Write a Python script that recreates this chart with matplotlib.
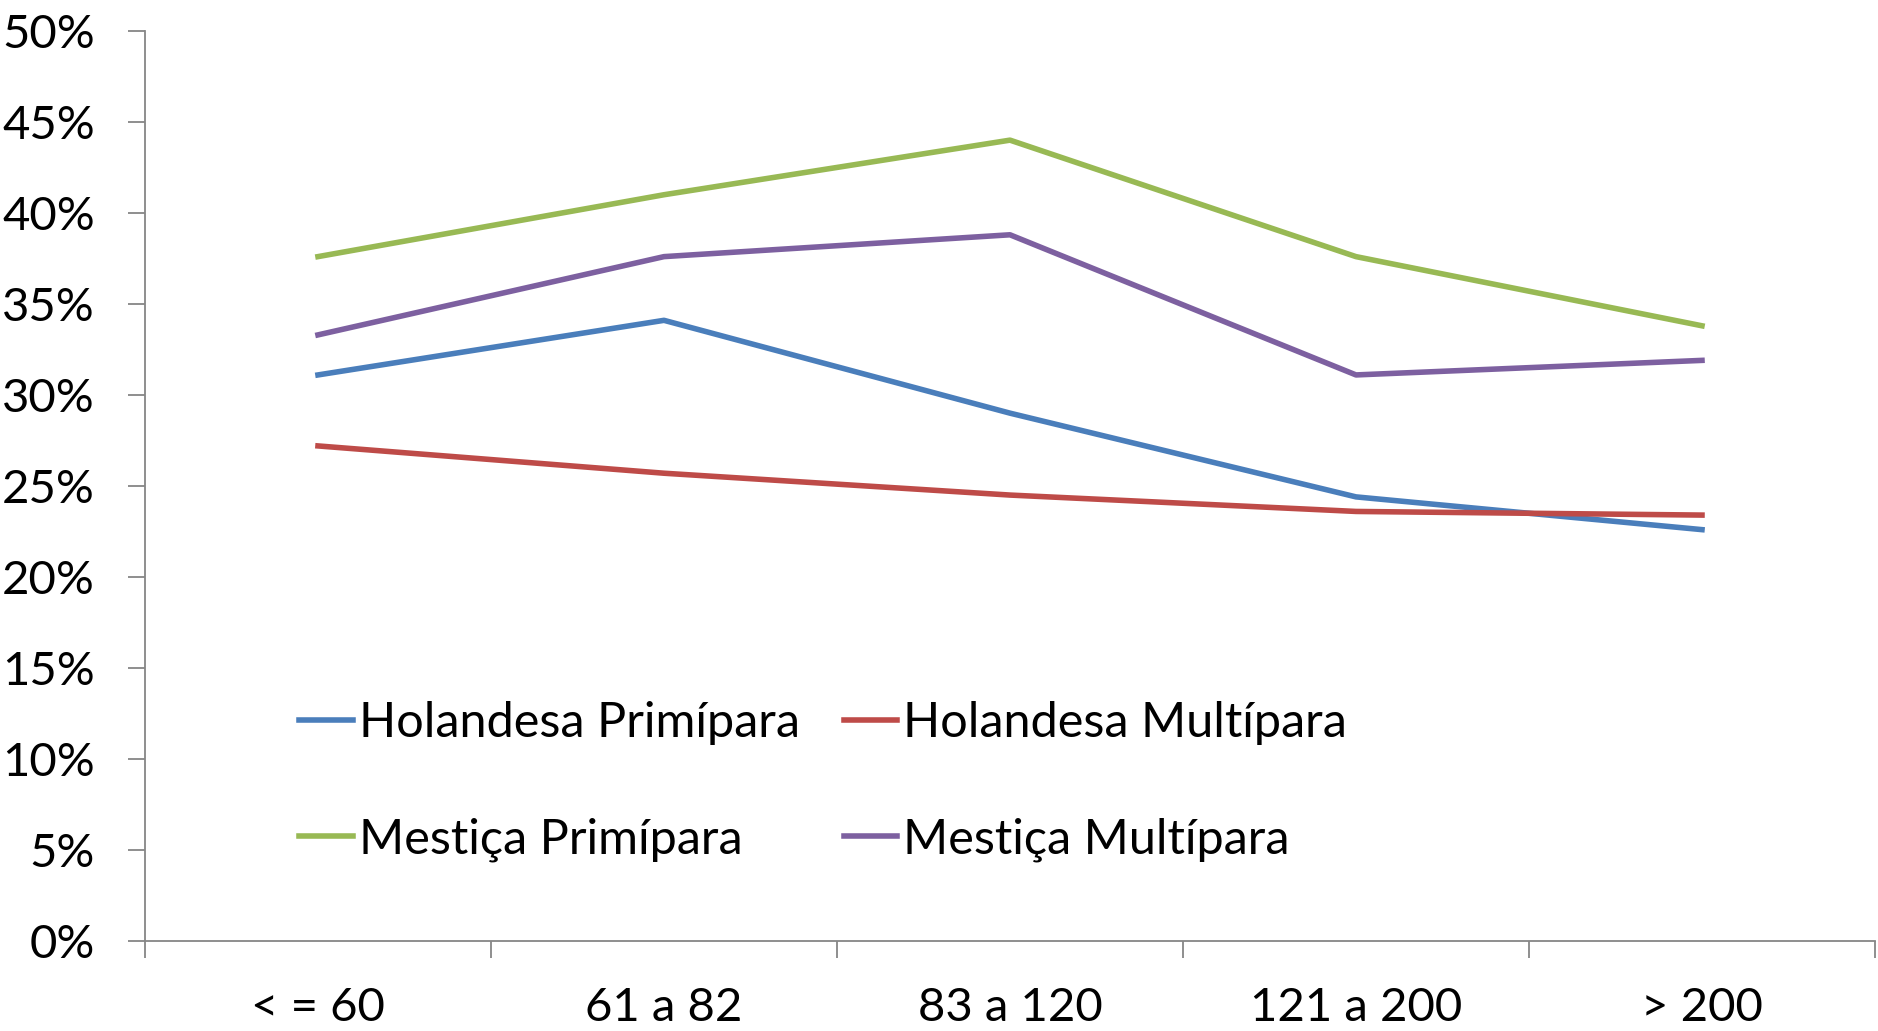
import matplotlib
matplotlib.use("Agg")
import matplotlib.pyplot as plt
from matplotlib.ticker import FixedLocator, PercentFormatter

# dados
categorias = ["< = 60", "61 a 82", "83 a 120", "121 a 200", "> 200"]
holandesa_primipara = [31.1, 34.1, 29.0, 24.4, 22.6]
holandesa_multipara = [27.2, 25.7, 24.5, 23.6, 23.4]
mestica_primipara = [37.6, 41.0, 44.0, 37.6, 33.8]
mestica_multipara = [33.3, 37.6, 38.8, 31.1, 31.9]

plt.rcParams["font.family"] = ["Lato", "DejaVu Sans"]

fig = plt.figure(figsize=(18.78, 10.31), dpi=100)
ax = fig.add_axes([0.0772, 0.0873, 0.9212, 0.8827])

x = range(len(categorias))
l1, = ax.plot(x, holandesa_primipara, color="#4A7EBB", lw=4, label="Holandesa Primípara")
l2, = ax.plot(x, holandesa_multipara, color="#BE4B48", lw=4, label="Holandesa Multípara")
l3, = ax.plot(x, mestica_primipara, color="#98B954", lw=4, label="Mestiça Primípara")
l4, = ax.plot(x, mestica_multipara, color="#7D60A0", lw=4, label="Mestiça Multípara")

ax.set_xlim(-0.5, len(categorias) - 0.5)
ax.set_ylim(0, 50)
ax.yaxis.set_major_locator(FixedLocator(range(0, 51, 5)))
ax.yaxis.set_major_formatter(PercentFormatter(decimals=0))

# ticks nos limites das categorias, rotulos no centro
ax.set_xticks([i - 0.5 for i in range(len(categorias) + 1)])
ax.set_xticklabels([])
ax.set_xticks(list(x), minor=True)
ax.set_xticklabels(categorias, minor=True)
ax.tick_params(axis="x", which="minor", length=0, pad=33, labelsize=34)
ax.tick_params(axis="x", which="major", length=12, width=1.3, color="#868686", direction="out")
ax.tick_params(axis="y", length=12, width=1.3, color="#868686", direction="out", pad=24, labelsize=34)

for s in ["top", "right"]:
    ax.spines[s].set_visible(False)
for s in ["left", "bottom"]:
    ax.spines[s].set_color("#868686")
    ax.spines[s].set_linewidth(1.3)

# ordem: linha 1 holandesa, linha 2 mestica
ax.legend([l1, l3, l2, l4], [l1.get_label(), l3.get_label(), l2.get_label(), l4.get_label()],
          loc="lower left", bbox_to_anchor=(0.064, 0.039), ncol=2, frameon=False,
          fontsize=35, handlelength=1.1, handletextpad=0.12, columnspacing=0.9,
          labelspacing=1.48)

fig.savefig("out.png", dpi=100)
